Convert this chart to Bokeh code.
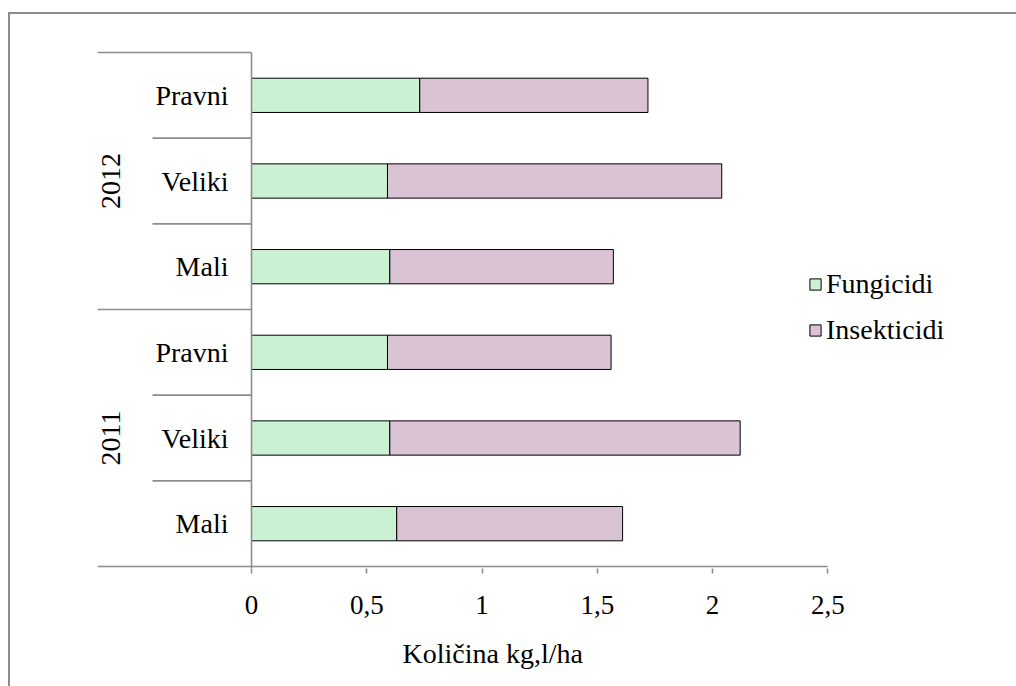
import math
from bokeh.plotting import figure
from bokeh.models import (Range1d, Legend, LegendItem, CustomJSTickFormatter, FixedTicker,
                          Title, ColumnDataSource)
from bokeh.core.properties import value
from bokeh.embed import file_html
from bokeh.resources import INLINE

# ---- data (bottom to top) ----
years = ["2011", "2011", "2011", "2012", "2012", "2012"]
groups = ["Mali", "Veliki", "Pravni", "Mali", "Veliki", "Pravni"]
fungicidi = [0.63, 0.60, 0.59, 0.60, 0.59, 0.73]
insekticidi = [0.98, 1.52, 0.97, 0.97, 1.45, 0.99]
series_names = ["Fungicidi", "Insekticidi"]
x_ticks = [0, 0.5, 1, 1.5, 2, 2.5]
x_title = "Količina kg,l/ha"

# ---- styling ----
FONT = "Liberation Serif"
FS = "28px"
FS_TICK = "27px"
GRAY = "#8c8c8c"
GREEN = "#CBF1D3"
PURPLE = "#D9C3D5"

n = len(groups)
px_per_unit = 230.5
frame_w = 913
frame_h = 518
x_start = -(251 - 97) / px_per_unit
x_end = x_start + frame_w / px_per_unit
band_px = 514 / n
y_pad = 2 / band_px

p = figure(frame_width=frame_w, frame_height=frame_h,
           min_border_left=87, min_border_right=6, min_border_top=36, min_border_bottom=112,
           x_range=Range1d(x_start, x_end), y_range=Range1d(-y_pad, n + y_pad),
           output_backend="svg", toolbar_location=None, y_axis_location=None,
           background_fill_color="white", border_fill_color="white")
p.outline_line_color = None
p.xgrid.visible = False
p.ygrid.visible = False
p.styles = {"margin-left": "8px", "margin-top": "12px",
            "border-left": "2px solid #8c8c8c", "border-top": "2px solid #8c8c8c"}

ys = [i + 0.5 for i in range(n)]
tot = [f + s for f, s in zip(fungicidi, insekticidi)]
src = ColumnDataSource(dict(y=ys, f=fungicidi, tot=tot, zero=[0] * n))

r1 = p.hbar(y="y", left="zero", right="f", height=0.4, source=src,
            fill_color=GREEN, line_color="black", line_width=1)
r2 = p.hbar(y="y", left="f", right="tot", height=0.4, source=src,
            fill_color=PURPLE, line_color="black", line_width=1)

# separators of the category axis
inner_left = -(251 - 152) / px_per_unit
x0s, x1s, yy = [], [], []
for i in range(1, n + 1):
    year_break = (i == n) or (years[i] != years[i - 1])
    x0s.append(x_start if year_break else inner_left)
    x1s.append(0)
    yy.append(i)
p.segment(x0=x0s, y0=yy, x1=x1s, y1=yy, line_color=GRAY, line_width=1.6)
p.segment(x0=[x_start], y0=[0], x1=[x_ticks[-1]], y1=[0], line_color=GRAY, line_width=1.6)
p.segment(x0=[0], y0=[-y_pad], x1=[0], y1=[n], line_color=GRAY, line_width=1.6)

# category labels
lab_x = -(251 - 228) / px_per_unit
p.text(x=[lab_x] * n, y=ys, text=groups, text_align="right", text_baseline="middle",
       text_font=value(FONT), text_font_size=FS, text_color="black")

# year labels
uniq_years = []
for y in years:
    if y not in uniq_years:
        uniq_years.append(y)
year_y = []
for uy in uniq_years:
    idx = [k for k, y in enumerate(years) if y == uy]
    year_y.append(sum(ys[k] for k in idx) / len(idx))
year_x = -(251 - 110) / px_per_unit
p.text(x=[year_x] * len(uniq_years), y=year_y, text=uniq_years, angle=math.pi / 2,
       text_align="center", text_baseline="middle",
       text_font=value(FONT), text_font_size=FS, text_color="black")

# x axis
ax = p.xaxis[0]
ax.ticker = FixedTicker(ticks=x_ticks)
ax.formatter = CustomJSTickFormatter(code="return String(tick).replace('.', ',')")
ax.axis_line_color = None
ax.major_tick_line_color = GRAY
ax.major_tick_line_width = 1.6
ax.major_tick_in = 0
ax.major_tick_out = 5
ax.minor_tick_line_color = None
ax.major_label_text_font = FONT
ax.major_label_text_font_size = FS_TICK
ax.major_label_text_color = "black"
ax.major_label_standoff = 22

t = Title(text=x_title, align="left", offset=305, standoff=39,
          text_font=FONT, text_font_size=FS, text_font_style="normal", text_color="black")
p.add_layout(t, "below")

# legend
legend = Legend(items=[LegendItem(label=series_names[0], renderers=[r1]),
                       LegendItem(label=series_names[1], renderers=[r2])],
                location=(711, 222), orientation="vertical",
                label_text_font=FONT, label_text_font_size=FS, label_text_color="black",
                glyph_width=14, glyph_height=14, label_standoff=4, label_height=30,
                spacing=14, padding=0, margin=0,
                border_line_color=None, background_fill_alpha=0)
p.add_layout(legend, "center")

open("out.html", "w").write(file_html(p, INLINE))
